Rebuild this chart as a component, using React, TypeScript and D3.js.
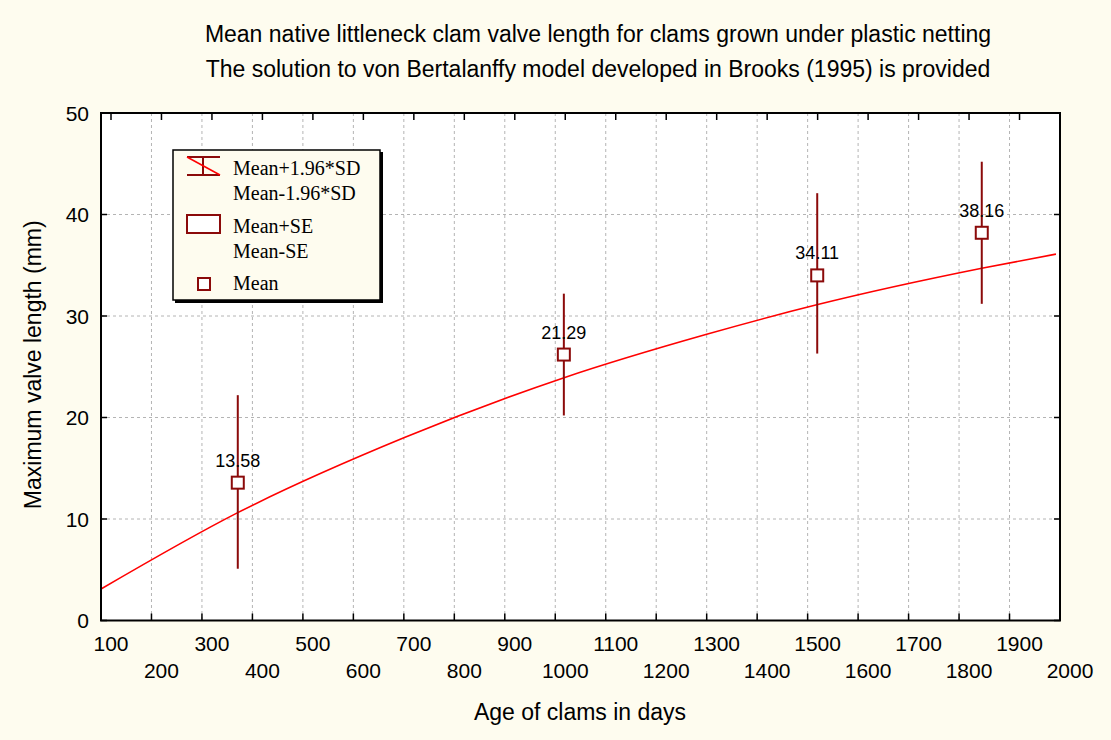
import * as d3 from "d3";
import React from "react";

// sample ages (days) and measured lengths (mm)
const ages = [371, 1017, 1519, 1845];
const means = [13.58, 26.2, 34.0, 38.2];
const meanLabels = ["13.58", "21.29", "34.11", "38.16"];
const upperSD = [22.2, 32.2, 42.1, 45.2];
const lowerSD = [5.1, 20.2, 26.3, 31.2];

// von Bertalanffy curve
const fitAges = [100, 370, 700, 1016, 1300, 1518, 1845, 1992];
const fitLengths = [3.1, 10.6, 18.0, 23.9, 28.2, 31.1, 34.7, 36.1];

const xTicks = [100, 200, 300, 400, 500, 600, 700, 800, 900, 1000, 1100, 1200, 1300, 1400, 1500, 1600, 1700, 1800, 1900, 2000];
const yTicks = [0, 10, 20, 30, 40, 50];

const titleLines = [
  "Mean native littleneck clam valve length for clams grown under plastic netting",
  "The solution to von Bertalanffy model developed in Brooks (1995) is provided",
];

const W = 1111;
const H = 740;
const plot = { left: 101, right: 1060, top: 113, bottom: 620.5 };

const DARK = "#8b0a0a";
const FIT = "#ff0000";
const BG = "#fefcef";
const sans = "Liberation Sans, Arial, sans-serif";
const serif = "Liberation Serif, Times New Roman, serif";

const App = (): React.ReactElement => {
  const x = d3.scaleLinear().domain([100, 2000]).range([plot.left, plot.right]);
  const y = d3.scaleLinear().domain([0, 50]).range([plot.bottom, plot.top]);

  const fitLine = d3
    .line<number>()
    .x((d) => x(d))
    .y((_, i) => y(fitLengths[i]))
    .curve(d3.curveMonotoneX);

  // Statistica puts the labels a little right of the grid ticks
  const labelShift = 10;

  return (
    <div style={{ position: "fixed", left: 0, top: 0 }}>
      <svg width={W} height={H} style={{ display: "block" }}>
        <rect x={0} y={0} width={W} height={H} fill={BG} />

        {/* title */}
        {titleLines.map((t, i) => (
          <text key={t} x={598} y={42 + i * 35} textAnchor="middle" fontFamily={sans} fontSize={23} fill="#000">
            {t}
          </text>
        ))}

        {/* plot area */}
        <rect x={plot.left} y={plot.top} width={plot.right - plot.left} height={plot.bottom - plot.top} fill="#fff" />

        {/* grid */}
        <g stroke="#b4b4b4" strokeWidth={1} strokeDasharray="3,3">
          {xTicks
            .filter((v) => v > 100 && v < 2000)
            .map((v) => (
              <line key={"gx" + v} x1={x(v)} x2={x(v)} y1={plot.top} y2={plot.bottom} />
            ))}
          {yTicks
            .filter((v) => v > 0 && v < 50)
            .map((v) => (
              <line key={"gy" + v} x1={plot.left} x2={plot.right} y1={y(v)} y2={y(v)} />
            ))}
        </g>

        {/* fitted curve */}
        <path d={fitLine(fitAges) ?? ""} fill="none" stroke={FIT} strokeWidth={1.6} />

        {/* whiskers and means */}
        {ages.map((a, i) => (
          <g key={"pt" + a}>
            <line x1={x(a)} x2={x(a)} y1={y(upperSD[i])} y2={y(lowerSD[i])} stroke={DARK} strokeWidth={2} />
            <rect x={x(a) - 6} y={y(means[i]) - 6} width={12} height={12} fill="#fff" stroke={DARK} strokeWidth={2} />
            <text x={x(a)} y={y(means[i]) - 16} textAnchor="middle" fontFamily={sans} fontSize={18} fill="#000">
              {meanLabels[i]}
            </text>
          </g>
        ))}

        {/* frame */}
        <rect
          x={plot.left}
          y={plot.top}
          width={plot.right - plot.left}
          height={plot.bottom - plot.top}
          fill="none"
          stroke="#000"
          strokeWidth={2}
        />

        {/* ticks, inside */}
        <g stroke="#000" strokeWidth={1.5}>
          {xTicks.map((v) => (
            <line key={"tb" + v} x1={x(v)} x2={x(v)} y1={plot.bottom} y2={plot.bottom - 7} />
          ))}
          {xTicks
            .filter((v) => x(v) + labelShift < plot.right)
            .map((v) => (
              <line key={"tt" + v} x1={x(v) + labelShift} x2={x(v) + labelShift} y1={plot.top} y2={plot.top + 7} />
            ))}
          {yTicks.map((v) => (
            <g key={"ty" + v}>
              <line x1={plot.left} x2={plot.left + 6} y1={y(v)} y2={y(v)} />
              <line x1={plot.right} x2={plot.right - 6} y1={y(v)} y2={y(v)} />
            </g>
          ))}
        </g>

        {/* x tick labels, staggered in two rows */}
        {xTicks.map((v, i) => (
          <text
            key={"xl" + v}
            x={x(v) + labelShift}
            y={i % 2 === 0 ? 651 : 678}
            textAnchor="middle"
            fontFamily={sans}
            fontSize={21}
            fill="#000"
          >
            {v}
          </text>
        ))}

        {/* y tick labels */}
        {yTicks.map((v) => (
          <text
            key={"yl" + v}
            x={89}
            y={y(v)}
            dy="0.36em"
            textAnchor="end"
            fontFamily={sans}
            fontSize={21}
            fill="#000"
          >
            {v}
          </text>
        ))}

        {/* axis titles */}
        <text x={580} y={720} textAnchor="middle" fontFamily={sans} fontSize={23} fill="#000">
          Age of clams in days
        </text>
        <text
          transform={`translate(41, ${(plot.top + plot.bottom) / 2 - 2}) rotate(-90)`}
          textAnchor="middle"
          fontFamily={sans}
          fontSize={23}
          fill="#000"
        >
          Maximum valve length (mm)
        </text>

        {/* legend */}
        <g>
          <rect x={175} y={152} width={208} height={151} fill="#000" />
          <rect x={173} y={150} width={207} height={150} fill={BG} stroke="#000" strokeWidth={1.5} />
          <g stroke={DARK} strokeWidth={2}>
            <line x1={187} x2={220} y1={157} y2={157} />
            <line x1={187} x2={220} y1={175} y2={175} />
            <line x1={203} x2={203} y1={157} y2={175} />
          </g>
          <line x1={187} x2={220} y1={157} y2={175} stroke={FIT} strokeWidth={1.5} />
          <rect x={187} y={215} width={33} height={18} fill="#fff" stroke={DARK} strokeWidth={2} />
          <rect x={198} y={278} width={12} height={12} fill="#fff" stroke={DARK} strokeWidth={2} />
          <g fontFamily={serif} fontSize={20} fill="#000">
            <text x={233} y={175}>Mean+1.96*SD</text>
            <text x={233} y={200}>Mean-1.96*SD</text>
            <text x={233} y={233}>Mean+SE</text>
            <text x={233} y={258}>Mean-SE</text>
            <text x={233} y={290}>Mean</text>
          </g>
        </g>
      </svg>
    </div>
  );
};

export default App;
